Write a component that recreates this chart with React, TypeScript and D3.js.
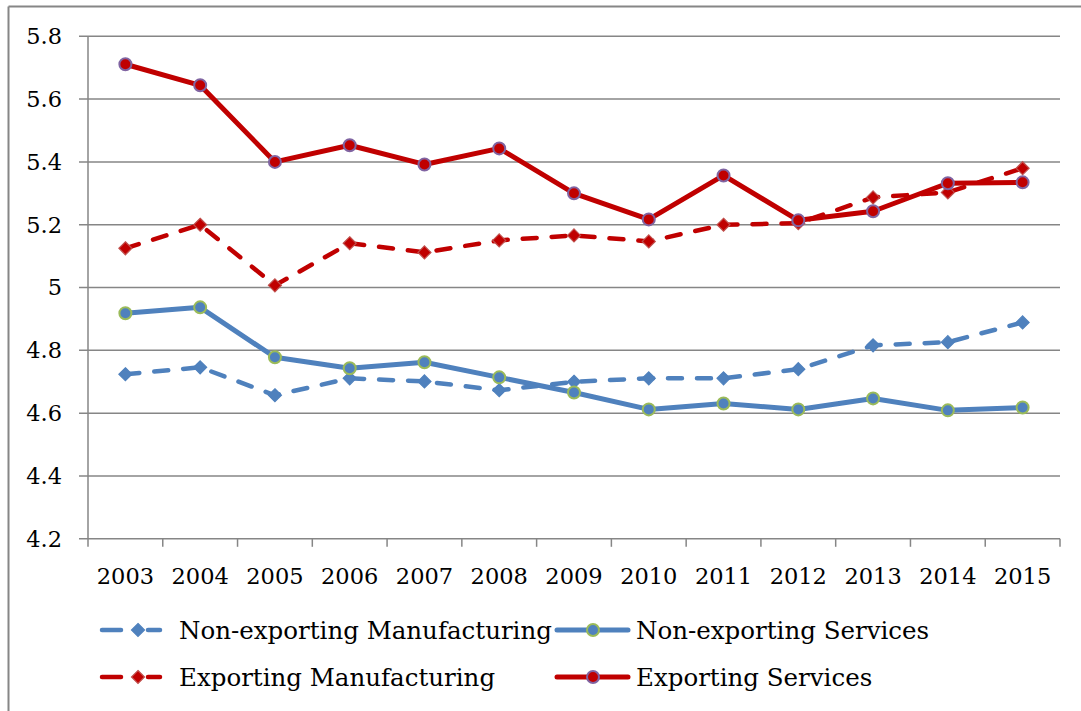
import React from "react";
import * as d3 from "d3";

const years = ["2003","2004","2005","2006","2007","2008","2009","2010","2011","2012","2013","2014","2015"];
const yTicks = [4.2, 4.4, 4.6, 4.8, 5, 5.2, 5.4, 5.6, 5.8];

const nonExpManufacturing = [4.724, 4.746, 4.657, 4.711, 4.701, 4.673, 4.70, 4.711, 4.711, 4.74, 4.816, 4.826, 4.889];
const nonExpServices = [4.918, 4.937, 4.778, 4.743, 4.762, 4.714, 4.666, 4.612, 4.631, 4.612, 4.647, 4.609, 4.618];
const expManufacturing = [5.125, 5.20, 5.007, 5.141, 5.112, 5.15, 5.166, 5.147, 5.20, 5.205, 5.287, 5.303, 5.38];
const expServices = [5.711, 5.644, 5.40, 5.453, 5.392, 5.443, 5.30, 5.217, 5.357, 5.214, 5.243, 5.332, 5.335];

const BLUE = "#4F81BD";
const RED = "#C00000";

const series = [
  { name: "Non-exporting Manufacturing", values: nonExpManufacturing, color: BLUE, dashed: true, marker: "diamond", mFill: BLUE, mStroke: BLUE },
  { name: "Non-exporting Services", values: nonExpServices, color: BLUE, dashed: false, marker: "circle", mFill: BLUE, mStroke: "#9BBB59" },
  { name: "Exporting Manufacturing", values: expManufacturing, color: RED, dashed: true, marker: "diamond", mFill: "#C00000", mStroke: "#C0504D" },
  { name: "Exporting Services", values: expServices, color: RED, dashed: false, marker: "circle", mFill: RED, mStroke: "#8064A2" },
];

const FONT = "'DejaVu Serif', serif";

function Marker({ type, x, y, fill, stroke }: any) {
  if (type === "circle") {
    return <circle cx={x} cy={y} r={6} fill={fill} stroke={stroke} strokeWidth={2} />;
  }
  const s = 6.5;
  return (
    <path d={`M${x},${y - s}L${x + s},${y}L${x},${y + s}L${x - s},${y}Z`} fill={fill} stroke={stroke} strokeWidth={1.2} />
  );
}

export default function App() {
  const W = 1081, H = 711;
  const left = 88, right = 1060, top = 36.3, bottom = 538.8;
  const x = d3.scaleBand().domain(years).range([left, right]);
  const y = d3.scaleLinear().domain([4.2, 5.8]).range([bottom, top]);
  const cx = (yr: string) => (x(yr) as number) + x.bandwidth() / 2;
  const line = d3.line<number>().x((_, i) => cx(years[i])).y((d) => y(d));
  const grid = "#868686";

  const order = [0, 1, 2, 3];

  const legendItems = [
    { s: series[0], lx: 102, ly: 630, tx: 179 },
    { s: series[1], lx: 557, ly: 630, tx: 636 },
    { s: series[2], lx: 102, ly: 677, tx: 179 },
    { s: series[3], lx: 557, ly: 677, tx: 636 },
  ];

  return (
    <svg width={W} height={H} style={{ position: "fixed", left: 0, top: 0, background: "#fff" }} fontFamily={FONT}>
      <rect x={0} y={0} width={W} height={H} fill="#fff" />
      <line x1={8.5} y1={6.5} x2={W} y2={6.5} stroke={grid} strokeWidth={2} />
      <line x1={8.5} y1={6.5} x2={8.5} y2={H} stroke={grid} strokeWidth={2} />

      {yTicks.map((t) => (
        <g key={t}>
          <line x1={left - 9} x2={right} y1={y(t)} y2={y(t)} stroke={grid} strokeWidth={1.5} />
          <text x={62} y={y(t)} dy="0.35em" textAnchor="end" fontSize={22.5} fill="#000">
            {d3.format("")(t)}
          </text>
        </g>
      ))}
      <line x1={left} x2={left} y1={top} y2={bottom + 8} stroke={grid} strokeWidth={1.5} />
      {years.map((yr) => (
        <line key={yr} x1={(x(yr) as number) + x.bandwidth()} x2={(x(yr) as number) + x.bandwidth()} y1={bottom} y2={bottom + 8} stroke={grid} strokeWidth={1.5} />
      ))}
      {years.map((yr) => (
        <text key={yr} x={cx(yr)} y={bottom + 45} textAnchor="middle" fontSize={22.5} fill="#000">
          {yr}
        </text>
      ))}

      {order.map((k) => {
        const s = series[k];
        return (
          <g key={s.name}>
            <path
              d={line(s.values) || ""}
              fill="none"
              stroke={s.color}
              strokeWidth={s.dashed ? 4.5 : 5}
              strokeDasharray={s.dashed ? "14,15" : undefined}
              strokeLinecap={s.dashed ? "round" : "butt"}
              strokeLinejoin="round"
            />
            {s.values.map((v, i) => (
              <Marker key={i} type={s.marker} x={cx(years[i])} y={y(v)} fill={s.mFill} stroke={s.mStroke} />
            ))}
          </g>
        );
      })}

      {legendItems.map(({ s, lx, ly, tx }) => (
        <g key={s.name}>
          {s.dashed ? (
            <>
              <line x1={lx} x2={lx + 19} y1={ly} y2={ly} stroke={s.color} strokeWidth={4.5} strokeLinecap="round" />
              <line x1={lx + 46} x2={lx + 58} y1={ly} y2={ly} stroke={s.color} strokeWidth={4.5} strokeLinecap="round" />
              <Marker type={s.marker} x={lx + 36} y={ly} fill={s.mFill} stroke={s.mStroke} />
            </>
          ) : (
            <>
              <line x1={lx} x2={lx + 71} y1={ly} y2={ly} stroke={s.color} strokeWidth={5} strokeLinecap="round" />
              <Marker type={s.marker} x={lx + 36} y={ly} fill={s.mFill} stroke={s.mStroke} />
            </>
          )}
          <text x={tx} y={ly} dy="0.35em" fontSize={24.5} fill="#000">
            {s.name}
          </text>
        </g>
      ))}
    </svg>
  );
}
